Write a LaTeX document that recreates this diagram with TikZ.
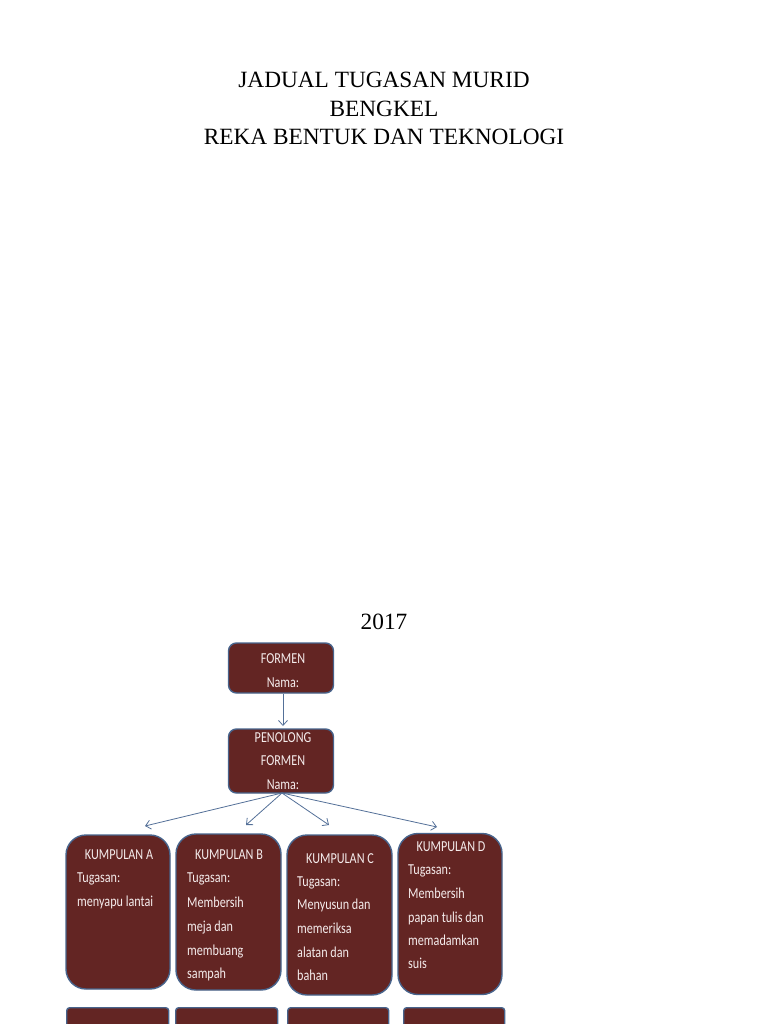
\documentclass[tikz,border=0pt]{standalone}
\usepackage{fontspec}
\setmainfont{Liberation Serif}
\newfontfamily\boxfont[FakeStretch=0.8]{Carlito}
\usetikzlibrary{arrows.meta}
\definecolor{boxfill}{RGB}{99,37,35}
\definecolor{boxline}{RGB}{72,100,140}
\definecolor{arrowcol}{RGB}{84,112,152}
\definecolor{boxtext}{RGB}{245,236,236}
\tikzset{
  topbox/.style={draw=boxline, line width=1.4pt, fill=boxfill, rounded corners=8pt, inner sep=0pt},
  groupbox/.style={draw=boxline, line width=1.4pt, fill=boxfill, rounded corners=20pt, inner sep=0pt},
  lowbox/.style={draw=boxline, line width=1.4pt, fill=boxfill, rounded corners=3pt, inner sep=0pt},
  bt/.style={text=boxtext, font=\boxfont\fontsize{15.2}{18}\selectfont, inner sep=0pt, anchor=base west},
  btc/.style={text=boxtext, font=\boxfont\fontsize{15.2}{18}\selectfont, inner sep=0pt, anchor=base},
  title/.style={font=\fontsize{23.3}{28}\selectfont, inner sep=0pt, anchor=base},
  conn/.style={draw=arrowcol, line width=0.8pt, -{Straight Barb[length=5pt,width=9pt]}}
}
\begin{document}
\begin{tikzpicture}[x=1pt,y=-1pt]
\useasboundingbox (0,0) rectangle (768,1024);
\clip (0,0) rectangle (768,1024);
\fill[white] (0,0) rectangle (768,1024);

% title
\node[title] (t1) at (384,88) {JADUAL TUGASAN MURID};
\node[title] (t2) at (384,117) {BENGKEL};
\node[title] (t3) at (384,145) {REKA BENTUK DAN TEKNOLOGI};
\node[title] (year) at (384,629) {2017};

% top boxes
\node[topbox, minimum width=105pt, minimum height=50pt] (formen) at (281,668) {};
\node[topbox, minimum width=105pt, minimum height=64pt] (penolong) at (281,761) {};
\node[btc] (f1) at (283,663) {FORMEN};
\node[btc] (f2) at (283,687) {Nama:};
\node[btc] (p1) at (283,742) {PENOLONG};
\node[btc] (p2) at (283,765) {FORMEN};
\node[btc] (p3) at (283,789) {Nama:};

% group boxes
\node[groupbox, minimum width=104pt, minimum height=154pt] (kA) at (118,912) {};
\node[groupbox, minimum width=105pt, minimum height=156pt] (kB) at (228.5,912) {};
\node[groupbox, minimum width=105pt, minimum height=160pt] (kC) at (339.5,915) {};
\node[groupbox, minimum width=104pt, minimum height=161pt] (kD) at (450,914) {};

% lower boxes
\node[lowbox, minimum width=102pt, minimum height=60pt, anchor=north west] (bA) at (66,1007) {};
\node[lowbox, minimum width=102pt, minimum height=60pt, anchor=north west] (bB) at (175,1007) {};
\node[lowbox, minimum width=101pt, minimum height=60pt, anchor=north west] (bC) at (287,1007) {};
\node[lowbox, minimum width=101pt, minimum height=60pt, anchor=north west] (bD) at (403,1007) {};

% texts A
\node[btc] (a0) at (119,859) {KUMPULAN A};
\node[bt] (a1) at (77,882) {Tugasan:};
\node[bt] (a2) at (77,906) {menyapu lantai};
% texts B
\node[btc] (b0) at (229,859) {KUMPULAN B};
\node[bt] (b1) at (187,882) {Tugasan:};
\node[bt] (b2) at (187,907) {Membersih};
\node[bt] (b3) at (187,931) {meja dan};
\node[bt] (b4) at (187,955) {membuang};
\node[bt] (b5) at (187,978) {sampah};
% texts C
\node[btc] (c0) at (340,863) {KUMPULAN C};
\node[bt] (c1) at (297,886) {Tugasan:};
\node[bt] (c2) at (297,909) {Menyusun dan};
\node[bt] (c3) at (297,933) {memeriksa};
\node[bt] (c4) at (297,957) {alatan dan};
\node[bt] (c5) at (297,980) {bahan};
% texts D
\node[btc] (d0) at (451,851) {KUMPULAN D};
\node[bt] (d1) at (408,874) {Tugasan:};
\node[bt] (d2) at (408,898) {Membersih};
\node[bt] (d3) at (408,922) {papan tulis dan};
\node[bt] (d4) at (408,945) {memadamkan};
\node[bt] (d5) at (408,968) {suis};

% connectors
\coordinate (fout) at (283,693.7);
\coordinate (pin) at (283,726);
\coordinate (pout) at (282,793);
\coordinate (tA) at (145,826);
\coordinate (tB) at (246,825);
\coordinate (tC) at (329,825);
\coordinate (tD) at (437,827);
\draw[conn] (fout) -- (pin);
\draw[conn] (pout) -- (tA);
\draw[conn] (pout) -- (tB);
\draw[conn] (pout) -- (tC);
\draw[conn] (pout) -- (tD);
\end{tikzpicture}
\end{document}
